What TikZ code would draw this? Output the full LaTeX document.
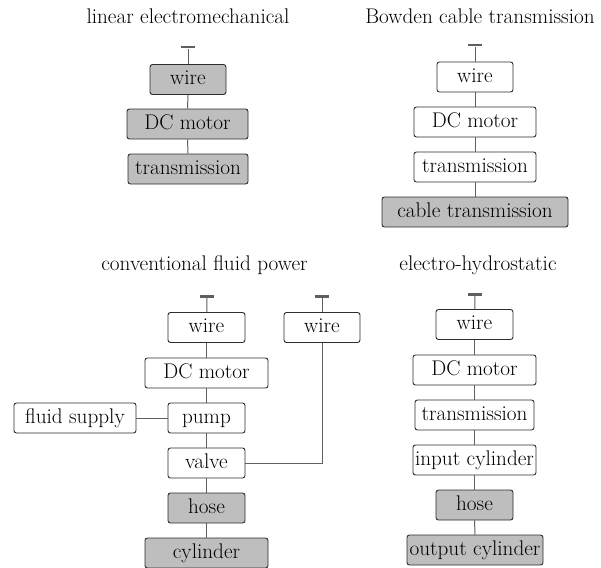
\documentclass[tikz,border=0pt]{standalone}
\usepackage{fontspec}
\definecolor{boxfill}{RGB}{190,190,190}
\definecolor{boxline}{RGB}{45,45,45}
\definecolor{linkgray}{RGB}{95,95,95}
\begin{document}
\begin{tikzpicture}[x=1pt,y=-1pt,
  blk/.style={draw=boxline, line width=0.9pt, rounded corners=2.5pt, minimum height=30pt,
    inner sep=0pt, text height=14.5pt, text depth=4.2pt, font=\fontsize{21.2}{24}\selectfont, fill=white},
  gblk/.style={blk, fill=boxfill},
  ttl/.style={font=\fontsize{21.2}{24}\selectfont, inner sep=0pt, text height=14.5pt, text depth=4.2pt},
  tbar/.style={rectangle, fill=linkgray, minimum width=14pt, minimum height=2.8pt, inner sep=0pt},
  lnk/.style={draw=linkgray, line width=1pt}]
\useasboundingbox (0,0) rectangle (601,567);

% panel 1
\node[ttl] (T1) at (188,18) {linear electromechanical};
\node[tbar] (b1) at (188,47) {};
\node[gblk, minimum width=76pt] (w1) at (188,79.5) {wire};
\node[gblk, minimum width=121pt] (m1) at (187.5,124) {DC motor};
\node[gblk, minimum width=120pt] (t1) at (188,169) {transmission};
\draw[lnk] (b1) -- (w1);
\draw[lnk] (w1) -- (m1);
\draw[lnk] (m1) -- (t1);

% panel 2
\node[ttl] (T2) at (480,18) {Bowden cable transmission};
\node[tbar] (b2) at (475,45) {};
\node[blk, minimum width=76pt] (w2) at (475,77) {wire};
\node[blk, minimum width=122pt] (m2) at (475,122) {DC motor};
\node[blk, minimum width=122pt] (t2) at (475,167) {transmission};
\node[gblk, minimum width=186pt] (c2) at (475,212) {cable transmission};
\draw[lnk] (b2) -- (w2);
\draw[lnk] (w2) -- (m2);
\draw[lnk] (m2) -- (t2);
\draw[lnk] (t2) -- (c2);

% panel 3
\node[ttl] (T3) at (204.5,265) {conventional fluid power};
\node[tbar] (b3) at (207,296.5) {};
\node[tbar] (b3b) at (322,296.5) {};
\node[blk, minimum width=77pt] (w3) at (206.5,327.5) {wire};
\node[blk, minimum width=76pt] (w3b) at (322,327.5) {wire};
\node[blk, minimum width=123pt] (m3) at (206.5,373) {DC motor};
\node[blk, minimum width=77pt] (p3) at (206.5,418) {pump};
\node[blk, minimum width=122pt] (f3) at (75,418) {fluid supply};
\node[blk, minimum width=77pt] (v3) at (206.5,463) {valve};
\node[gblk, minimum width=77pt] (h3) at (206.5,508) {hose};
\node[gblk, minimum width=123pt] (cy3) at (206.5,553) {cylinder};
\draw[lnk] (b3) -- (w3);
\draw[lnk] (b3b) -- (w3b);
\draw[lnk] (w3) -- (m3);
\draw[lnk] (m3) -- (p3);
\draw[lnk] (f3) -- (p3);
\draw[lnk] (p3) -- (v3);
\draw[lnk] (v3) -- (h3);
\draw[lnk] (h3) -- (cy3);
\draw[lnk] (v3.east) -| (w3b.south);

% panel 4
\node[ttl] (T4) at (478,265) {electro-hydrostatic};
\node[tbar] (b4) at (475,294.5) {};
\node[blk, minimum width=77pt] (w4) at (474.5,324.5) {wire};
\node[blk, minimum width=123pt] (m4) at (474.5,370) {DC motor};
\node[blk, minimum width=119pt] (t4) at (474.5,415) {transmission};
\node[blk, minimum width=123pt] (i4) at (474.5,460) {input cylinder};
\node[gblk, minimum width=77pt] (h4) at (474.5,505) {hose};
\node[gblk, minimum width=136pt] (o4) at (475,550) {output cylinder};
\draw[lnk] (b4) -- (w4);
\draw[lnk] (w4) -- (m4);
\draw[lnk] (m4) -- (t4);
\draw[lnk] (t4) -- (i4);
\draw[lnk] (i4) -- (h4);
\draw[lnk] (h4) -- (o4);
\end{tikzpicture}
\end{document}
